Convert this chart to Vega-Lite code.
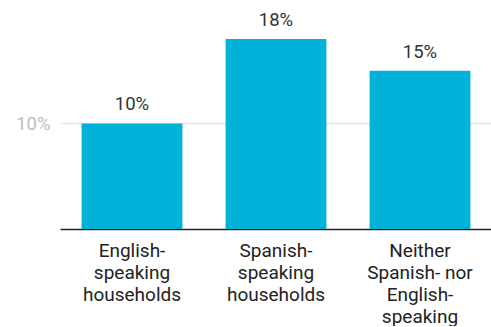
{
  "$schema": "https://vega.github.io/schema/vega-lite/v6.json",
  "width": 432,
  "height": 229,
  "padding": {"left": 15, "top": 0, "right": 0, "bottom": 0},
  "background": "white",
  "config": {
    "view": {"stroke": null},
    "font": "Roboto"
  },
  "data": {
    "values": [
      {"group": "English-|speaking|households", "value": 10, "label": "10%"},
      {"group": "Spanish-|speaking|households", "value": 18, "label": "18%"},
      {"group": "Neither|Spanish- nor|English-|speaking", "value": 15, "label": "15%"}
    ]
  },
  "encoding": {
    "x": {
      "field": "group",
      "type": "nominal",
      "sort": null,
      "title": null,
      "scale": {"paddingInner": 0.3, "paddingOuter": 0.15},
      "axis": {
        "labelExpr": "split(datum.label, '|')",
        "labelAngle": 0,
        "labelFont": "Roboto",
        "labelFontSize": 19,
        "labelColor": "#222222",
        "labelLineHeight": 22,
        "labelPadding": 12,
        "labelBaseline": "top",
        "ticks": false,
        "domainColor": "#222222",
        "domainWidth": 1.5,
        "grid": false
      }
    },
    "y": {
      "field": "value",
      "type": "quantitative",
      "title": null,
      "scale": {"domain": [0, 21.7], "nice": false},
      "axis": {
        "values": [10],
        "labelExpr": "datum.value + '%'",
        "labelFont": "Roboto",
        "labelFontSize": 18.5,
        "labelColor": "#bdbdbd",
        "labelPadding": 10,
        "ticks": false,
        "domain": false,
        "grid": true,
        "gridColor": "#e6e6e6",
        "gridWidth": 1.5
      }
    }
  },
  "layer": [
    {"mark": {"type": "bar", "color": "#00b2da"}},
    {
      "mark": {"type": "text", "baseline": "bottom", "dy": -9, "font": "Roboto", "fontSize": 18.5, "color": "#333333"},
      "encoding": {"text": {"field": "label"}}
    }
  ]
}
